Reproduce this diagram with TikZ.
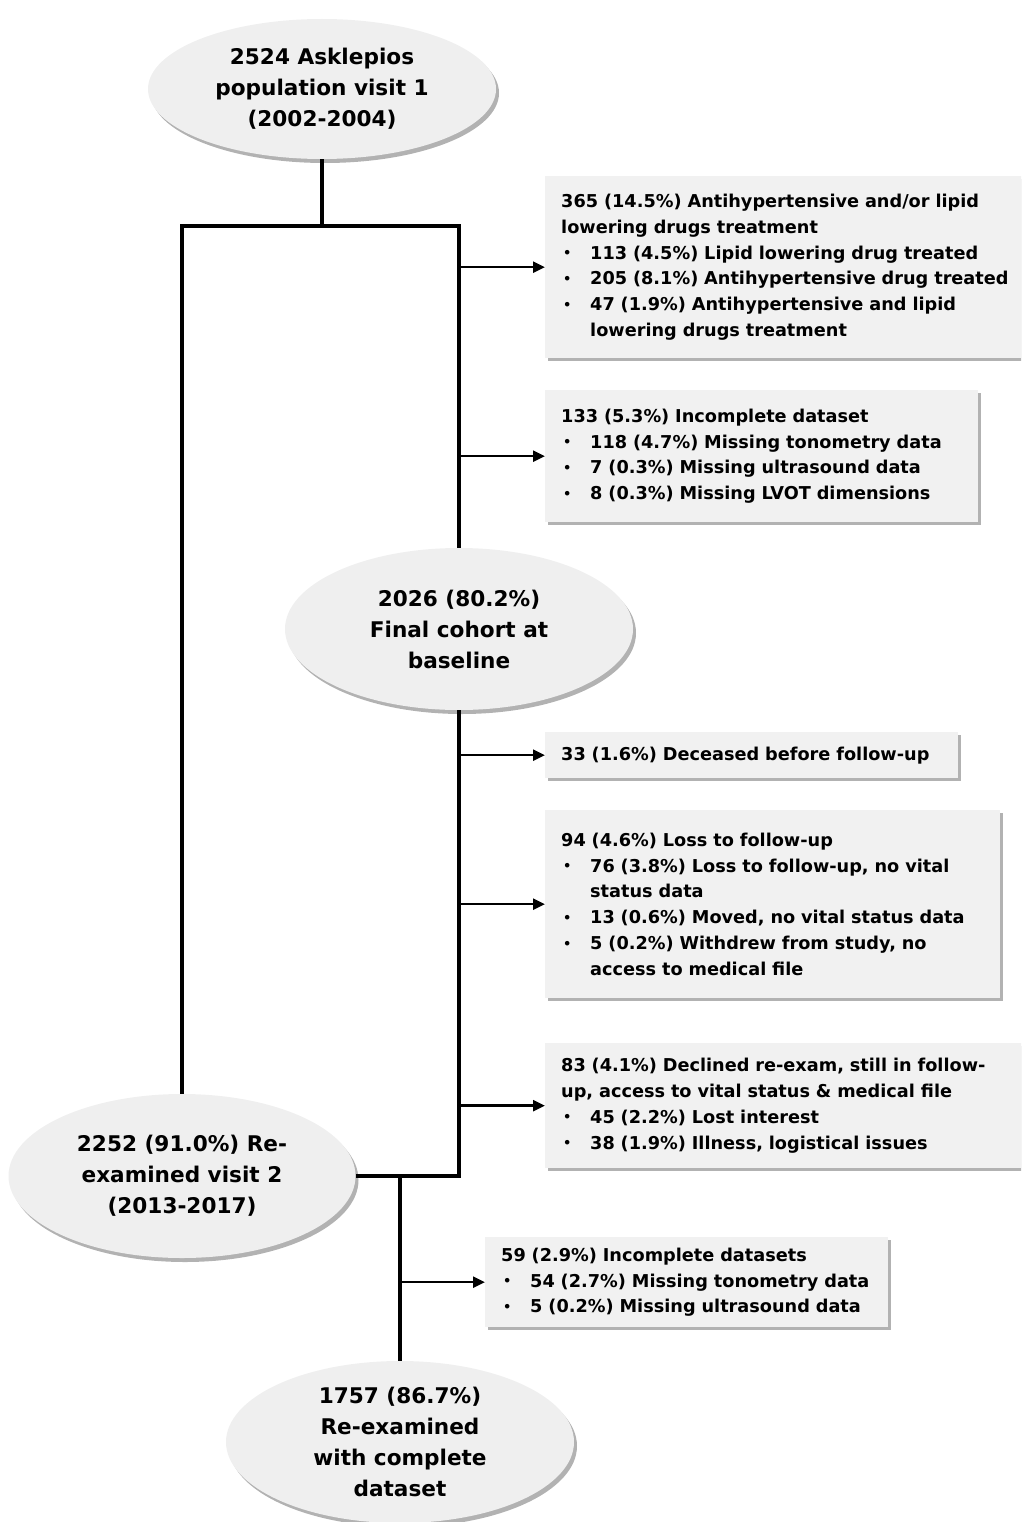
\documentclass[tikz,border=0pt]{standalone}
\usepackage{fontspec}
\setmainfont{DejaVu Sans}
\usetikzlibrary{shapes.geometric,shadows,arrows.meta}
\definecolor{ellgray}{HTML}{EFEFEF}
\definecolor{boxgray}{HTML}{F1F1F1}
\newcommand{\mydot}{\raisebox{1.5pt}{\fontsize{13}{13}\selectfont\textbullet}}
\newcommand{\myb}[1]{\mbox{\makebox[29pt][l]{\hspace{2pt}\mydot}#1}}
\newcommand{\myc}[1]{\mbox{\hspace*{29pt}#1}}
\newcommand{\myl}[1]{\mbox{#1}}
\begin{document}
\begin{tikzpicture}[x=1pt,y=-1pt,
  ell/.style={ellipse, fill=ellgray, inner sep=0pt, align=center,
    font=\fontsize{21.6}{31}\selectfont\bfseries,
    drop shadow={shadow xshift=3pt,shadow yshift=-4pt,opacity=0.3,fill=black}},
  infobox/.style={rectangle, fill=boxgray, anchor=north west, inner xsep=16pt, inner ysep=0pt,
    align=left, font=\fontsize{17.7}{25.8}\selectfont\bfseries,
    drop shadow={shadow xshift=3pt,shadow yshift=-3pt,opacity=0.3,fill=black}},
  trunk/.style={line width=4pt, line join=miter},
  arr/.style={line width=2.5pt, -{Triangle[length=12pt,width=11pt]}}]
\useasboundingbox (0,0) rectangle (1021,1522);
\clip (0,0) rectangle (1021,1522);
% ellipses
\node[ell, minimum width=348pt, minimum height=140pt] (e1) at (322,89)
  {2524 Asklepios\\population visit 1\\(2002-2004)};
\node[ell, minimum width=348pt, minimum height=162pt] (e2) at (459,629)
  {2026 (80.2\%)\\Final cohort at\\baseline};
\node[ell, minimum width=347pt, minimum height=164pt] (e3) at (182,1176)
  {2252 (91.0\%) Re-\\examined visit 2\\(2013-2017)};
\node[ell, minimum width=348pt, minimum height=162pt] (e4) at (400,1442)
  {1757 (86.7\%)\\Re-examined\\with complete\\dataset};
% boxes
\node[infobox, text width=453pt, minimum height=182pt] (b1) at (545,176) {%
  \myl{365 (14.5\%) Antihypertensive and/or lipid}\\
  \myl{lowering drugs treatment}\\
  \myb{113 (4.5\%) Lipid lowering drug treated}\\
  \myb{205 (8.1\%) Antihypertensive drug treated}\\
  \myb{47 (1.9\%) Antihypertensive and lipid}\\
  \myc{lowering drugs treatment}};
\node[infobox, text width=401pt, minimum height=132pt] (b2) at (545,390) {%
  \myl{133 (5.3\%) Incomplete dataset}\\
  \myb{118 (4.7\%) Missing tonometry data}\\
  \myb{7 (0.3\%) Missing ultrasound data}\\
  \myb{8 (0.3\%) Missing LVOT dimensions}};
\node[infobox, text width=381pt, minimum height=46pt] (b3) at (545,732) {%
  \myl{33 (1.6\%) Deceased before follow-up}};
\node[infobox, text width=423pt, minimum height=188pt] (b4) at (545,810) {%
  \myl{94 (4.6\%) Loss to follow-up}\\
  \myb{76 (3.8\%) Loss to follow-up, no vital}\\
  \myc{status data}\\
  \myb{13 (0.6\%) Moved, no vital status data}\\
  \myb{5 (0.2\%) Withdrew from study, no}\\
  \myc{access to medical file}};
\node[infobox, text width=453pt, minimum height=125pt] (b5) at (545,1043) {%
  \myl{83 (4.1\%) Declined re-exam, still in follow-}\\
  \myl{up, access to vital status \& medical file}\\
  \myb{45 (2.2\%) Lost interest}\\
  \myb{38 (1.9\%) Illness, logistical issues}};
\node[infobox, text width=371pt, minimum height=90pt] (b6) at (485,1237) {%
  \myl{59 (2.9\%) Incomplete datasets}\\
  \myb{54 (2.7\%) Missing tonometry data}\\
  \myb{5 (0.2\%) Missing ultrasound data}};
% trunk lines
\coordinate (ytop) at (0,226);
\draw[trunk] (e1.south) -- (e1.south |- ytop);
\draw[trunk] (e3.north) |- (e2.north |- ytop) -- (e2.north);
\draw[trunk] (e2.south) |- (e3.east);
\draw[trunk] (e4.north |- e3.east) -- (e4.north);
% arrows
\draw[arr] (b1.west -| e2.north) -- (b1.west);
\draw[arr] (b2.west -| e2.north) -- (b2.west);
\draw[arr] (b3.west -| e2.north) -- (b3.west);
\draw[arr] (b4.west -| e2.north) -- (b4.west);
\draw[arr] (b5.west -| e2.north) -- (b5.west);
\draw[arr] (b6.west -| e4.north) -- (b6.west);
\end{tikzpicture}
\end{document}
